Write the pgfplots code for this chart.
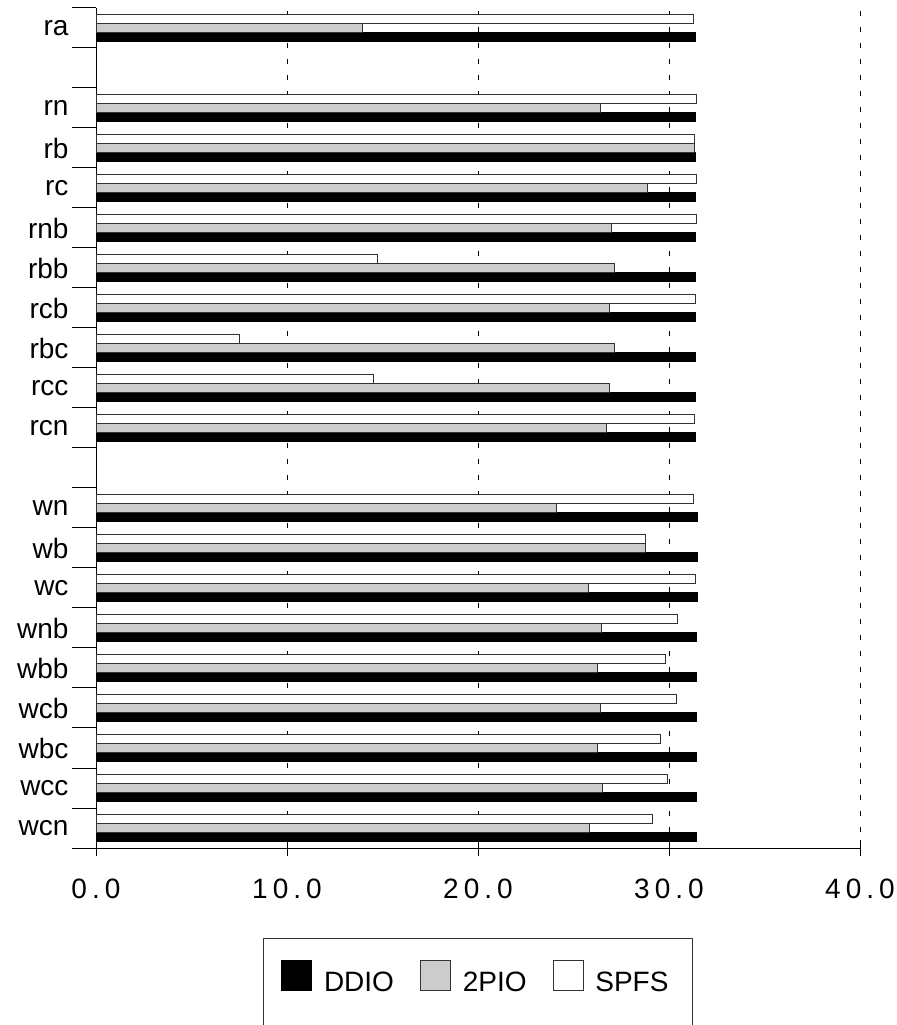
\documentclass[border=0pt]{standalone}
\usepackage{pgfplots}
\pgfplotsset{compat=1.18}
\usepackage{pgfplotstable}
\usepackage{fontspec}
\setmainfont{Liberation Sans}
\newfontfamily\spaced[LetterSpace=18]{Liberation Sans}

\pgfplotstableread{
pos ddio tpio spfs
20 31.36 13.93 31.30
18 31.40 26.43 31.44
17 31.40 31.32 31.32
16 31.38 28.88 31.44
15 31.40 27.00 31.44
14 31.38 27.12 14.75
13 31.38 26.87 31.37
12 31.38 27.12 7.50
11 31.38 26.87 14.53
10 31.38 26.73 31.34
8 31.47 24.08 31.29
7 31.47 28.76 28.76
6 31.47 25.78 31.38
5 31.43 26.45 30.42
4 31.43 26.25 29.82
3 31.43 26.43 30.38
2 31.43 26.27 29.53
1 31.43 26.49 29.93
0 31.43 25.84 29.11
}\data

\begin{document}
\begin{tikzpicture}
\begin{axis}[
  at={(96bp,177bp)}, anchor=south west,
  scale only axis, width=764bp, height=840bp,
  xmin=0, xmax=40, ymin=-0.5, ymax=20.5,
  axis x line*=bottom, axis y line*=left,
  every non boxed x axis/.append style={tick align=center},
  every non boxed y axis/.append style={tick align=center},
  axis line style={line width=1bp, black},
  xtick={0,10,20,30,40},
  xticklabels={0.0,10.0,20.0,30.0,40.0},
  xticklabel style={font=\fontsize{28bp}{32bp}\spaced, yshift=-19bp},
  ytick={0,1,2,3,4,5,6,7,8,10,11,12,13,14,15,16,17,18,20},
  yticklabels={wcn,wcc,wbc,wcb,wbb,wnb,wc,wb,wn,rcn,rcc,rbc,rcb,rbb,rnb,rc,rb,rn,ra},
  yticklabel style={font=\fontsize{28bp}{32bp}\selectfont, anchor=east, xshift=-8bp},
  minor ytick={-0.5,0.5,...,20.5},
  tick align=center,
  major tick length=16bp,
  minor tick length=24bp,
  major y tick style={draw=none},
  every tick/.style={black, line width=1bp},
  xmajorgrids,
  major x grid style={black, line width=0.8bp, dash pattern=on 5bp off 11bp},
  xbar, bar width=9bp,
  legend columns=3,
  legend style={at={(0.2186,-0.1071)}, anchor=north west, draw=none, fill=none,
    font=\fontsize{28bp}{32bp}\selectfont,
    inner xsep=18bp, inner ysep=22bp,
    /tikz/every even column/.append style={column sep=24bp},
    /tikz/every odd column/.append style={column sep=10bp}},
  legend image code/.code={\draw[#1, line width=0.8bp] (0bp,-8bp) rectangle (30bp,22bp);},
  after end axis/.code={
    \draw[black!80, line width=0.8bp] (rel axis cs:0.2186,-0.2300) -- (rel axis cs:0.2186,-0.1071)
      -- (rel axis cs:0.7801,-0.1071) -- (rel axis cs:0.7801,-0.2300);
  },
]
\addplot[draw=black, fill=black, line width=0.8bp, bar shift=-9bp] table[x=ddio, y=pos] {\data};
\addplot[draw=black!80, fill=black!20, line width=0.8bp, bar shift=0bp] table[x=tpio, y=pos] {\data};
\addplot[draw=black!80, fill=white, line width=0.8bp, bar shift=9bp] table[x=spfs, y=pos] {\data};
\legend{DDIO,2PIO,SPFS}
\end{axis}
\pgfresetboundingbox
\useasboundingbox (0,0) rectangle (897bp,1025bp);
\end{tikzpicture}
\end{document}
